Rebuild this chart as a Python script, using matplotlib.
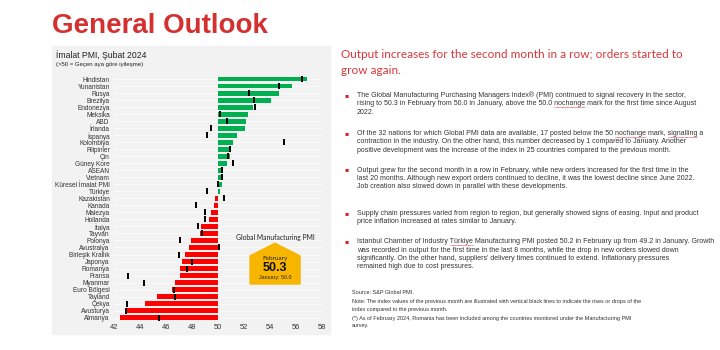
import matplotlib
matplotlib.use('Agg')
import matplotlib.pyplot as plt
from matplotlib.patches import Rectangle, Polygon
from matplotlib.lines import Line2D

# ---- data (Şubat / Ocak 2024 PMI) ----
countries = ['Hindistan', 'Yunanistan', 'Rusya', 'Brezilya', 'Endonezya', 'Meksika', 'ABD',
             'İrlanda', 'İspanya', 'Kolombiya', 'Filipinler', 'Çin', 'Güney Kore', 'ASEAN',
             'Vietnam', 'Küresel İmalat PMI', 'Türkiye', 'Kazakistan', 'Kanada', 'Malezya',
             'Hollanda', 'İtalya', 'Tayvan', 'Polonya', 'Avustralya', 'Birleşik Krallık',
             'Japonya', 'Romanya', 'Fransa', 'Myanmar', 'Euro Bölgesi', 'Tayland', 'Çekya',
             'Avusturya', 'Almanya']
feb = [56.9, 55.7, 54.7, 54.1, 52.7, 52.3, 52.2,
       52.1, 51.5, 51.2, 51.0, 50.9, 50.7, 50.4,
       50.4, 50.3, 50.2, 49.8, 49.7, 49.5,
       49.3, 48.7, 48.6, 47.9, 47.8, 47.5,
       47.2, 47.1, 47.1, 46.7, 46.5, 45.3, 44.4,
       43.0, 42.5]
jan = [56.5, 54.7, 52.4, 52.8, 52.9, 50.2, 50.7,
       49.5, 49.2, 55.1, 50.9, 50.8, 51.2, 50.3,
       50.3, 50.0, 49.2, 50.5, 48.3, 49.0,
       49.0, 48.5, 48.8, 47.1, 50.1, 47.0,
       48.0, 47.6, 43.1, 44.3, 46.6, 46.7, 43.0,
       42.9, 45.5]
x_ticks = [42, 44, 46, 48, 50, 52, 54, 56, 58]
global_feb = 50.3
global_jan = 50.0

bullets = [
    ["The Global Manufacturing Purchasing Managers Index® (PMI) continued to signal recovery in the sector,",
     "rising to 50.3 in February from 50.0 in January, above the 50.0 nochange mark for the first time since August",
     "2022."],
    ["Of the 32 nations for which Global PMI data are available, 17 posted below the 50 nochange mark, signalling a",
     "contraction in the industry. On the other hand, this number decreased by 1 compared to January. Another",
     "positive development was the increase of the index in 25 countries compared to the previous month."],
    ["Output grew for the second month in a row in February, while new orders increased for the first time in the",
     "last 20 months. Although new export orders continued to decline, it was the lowest decline since June 2022.",
     "Job creation also slowed down in parallel with these developments."],
    ["Supply chain pressures varied from region to region, but generally showed signs of easing. Input and product",
     "price inflation increased at rates similar to January."],
    ["Istanbul Chamber of Industry Türkiye Manufacturing PMI posted 50.2 in February up from 49.2 in January. Growth",
     "was recorded in output for the first time in the last 8 months, while the drop in new orders slowed down",
     "significantly. On the other hand, suppliers' delivery times continued to extend. Inflationary pressures",
     "remained high due to cost pressures."],
]
bullet_y = [95.3, 133.3, 170, 213.3, 241.7]   # first line, px from top
# (bullet, line, word) flagged by the spell checker in the original slide
spell_marks = [(0, 1, 'nochange'), (1, 0, 'nochange'), (1, 0, 'signalling'), (4, 0, 'Türkiye')]
notes = [("Source: S&P Global PMI.", 292.7),
         ("Note: The index values of the previous month are illustrated with vertical black lines to indicate the rises or drops of the", 301.7),
         ("index compared to the previous month.", 309.3),
         ("(*) As of February 2024, Romania has been included among the countries monitored under the Manufacturing PMI", 318.7),
         ("survey.", 326)]

W, H = 720, 350
RED = '#d3302f'
GREEN = '#00b050'
BARRED = '#ff0000'
TXT = '#333333'
BODY = dict(fontsize=5.0, color=TXT, family='Liberation Sans', va='center')

fig = plt.figure(figsize=(7.2, 3.5), dpi=100)
renderer = fig.canvas.get_renderer()


def fx(px):
    return px / W


def fy(py):
    return 1 - py / H


def text_width(s):
    t = fig.text(0, 0, s, **BODY)
    w = t.get_window_extent(renderer).width
    t.remove()
    return w


# grey chart panel (behind the axes)
fig.patches.append(Rectangle((fx(52), fy(334)), fx(330) - fx(52), fy(46) - fy(334),
                             transform=fig.transFigure, color='#f2f2f2', zorder=-5))

fig.text(fx(52), fy(33), 'General Outlook', fontsize=20, fontweight='bold',
         color=RED, family='Liberation Sans', va='baseline')
fig.text(fx(56), fy(55), 'İmalat PMI, Şubat 2024', fontsize=6.2, color='#222222',
         family='Liberation Sans', va='center')
fig.text(fx(56), fy(64.5), '(>50 = Geçen aya göre iyileşme)', fontsize=4.3, color='#222222',
         family='Liberation Sans', va='center')

# ---- bar chart ----
ax = fig.add_axes([fx(114), 0.0823, fx(321.7) - fx(114), 0.7843 - 0.0823])
ax.set_facecolor('none')
y = list(range(len(countries)))
for i in y:
    ax.axhline(i, color='#fafafa', lw=0.8, zorder=0)
colors = [GREEN if v >= 50 else BARRED for v in feb]
ax.barh(y, [v - 50 for v in feb], left=50, height=0.7, color=colors, zorder=2)
ax.scatter(jan, y, marker='|', s=14, color='black', linewidths=1.4, zorder=3)

ax.set_xlim(42, 58)
ax.set_ylim(len(countries) - 0.5, -0.5)
ax.set_xticks(x_ticks)
ax.set_yticks(y)
ax.set_yticklabels(countries)
ax.tick_params(length=0, labelsize=4.7, pad=3, colors=TXT)
ax.tick_params(axis='x', labelsize=5.4, pad=2)
for lab in ax.get_xticklabels() + ax.get_yticklabels():
    lab.set_family('Liberation Sans')
for s in ax.spines.values():
    s.set_visible(False)

# Global PMI call-out
pent = Polygon([(52.48, 25.2), (54.4, 23.4), (56.33, 25.2), (56.33, 29.2), (52.48, 29.2)],
               closed=True, color='#f7b500', zorder=4)
ax.add_patch(pent)
ax.text(54.4, 22.6, 'Global Manufacturing PMI', fontsize=4.9, ha='center', va='center',
        family='Lato', color='#222222', zorder=5)
ax.text(54.4, 25.6, 'February', fontsize=4.6, ha='center', va='center',
        family='Lato', color='#222222', zorder=5)
ax.text(54.4, 26.95, f'{global_feb:.1f}', fontsize=9, fontweight='bold', ha='center',
        va='center', family='Liberation Sans', color='#111111', zorder=5)
ax.text(54.4, 28.3, f'January: {global_jan:.1f}', fontsize=3.8, ha='center', va='center',
        family='Liberation Sans', color='#222222', zorder=5)

# ---- right-hand text ----
fig.text(fx(341), fy(55), 'Output increases for the second month in a row; orders started to',
         fontsize=8.5, color='#d9363b', family='Lato', va='center')
fig.text(fx(341), fy(70), 'grow again.', fontsize=8.5, color='#d9363b', family='Lato', va='center')

for lines, y0 in zip(bullets, bullet_y):
    fig.text(fx(344), fy(y0), '▪', fontsize=4.5, color='#e0202a', va='center',
             family='DejaVu Sans')
    for k, line in enumerate(lines):
        fig.text(fx(357), fy(y0 + 8.4 * k), line, **BODY)

# spell-check underlines
for b, k, word in spell_marks:
    line = bullets[b][k]
    x0 = 357 + text_width(line[:line.index(word)])
    x1 = x0 + text_width(word)
    yy = bullet_y[b] + 8.4 * k + 3.3
    fig.lines.append(Line2D([fx(x0), fx(x1)], [fy(yy), fy(yy)], transform=fig.transFigure,
                            color='#e03030', lw=0.5, ls=(0, (1.2, 0.6))))

for txt, yy in notes:
    fig.text(fx(352), fy(yy), txt, fontsize=4.0, color=TXT, family='Liberation Sans',
             va='center')

fig.savefig('out.png', dpi=100)
